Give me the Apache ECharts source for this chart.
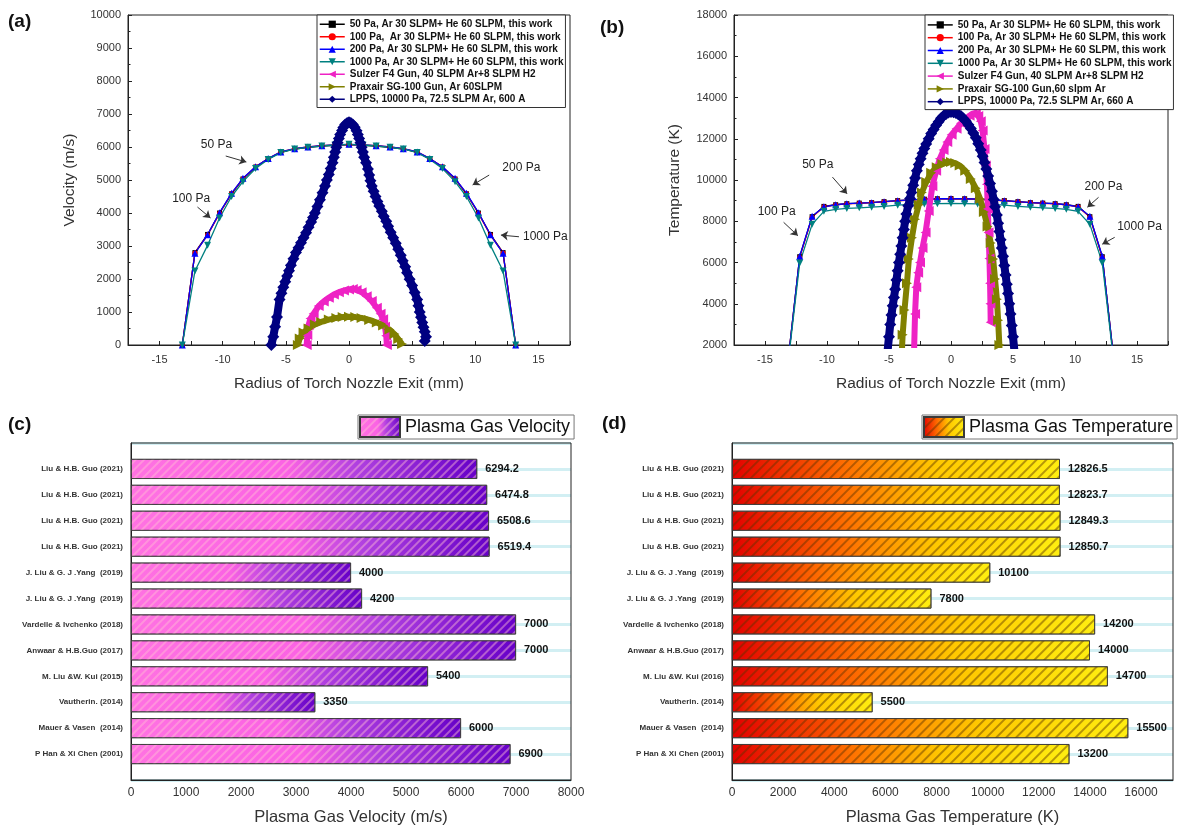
<!DOCTYPE html>
<html><head><meta charset="utf-8">
<script src="https://cdn.jsdelivr.net/npm/echarts@6/dist/echarts.min.js"></script>
<style>html,body{margin:0;padding:0;background:#fff}#c{width:1178px;height:828px}</style>
</head><body><div id="c"></div><script>
const FONT = '"Liberation Sans", Arial, sans-serif';

// ---------- (a)/(b) this-work profiles ----------
const radiusWork = [-13.2,-12.2,-11.2,-10.25,-9.3,-8.4,-7.4,-6.4,-5.4,-4.3,-3.25,-2.15,-1.1,0,1.1,2.15,3.25,4.3,5.4,6.4,7.4,8.4,9.3,10.25,11.2,12.2,13.2];
const vel50   = [0,2800,3350,4000,4580,5030,5390,5640,5840,5940,5990,6030,6050,6070,6050,6030,5990,5940,5840,5640,5390,5030,4580,4000,3350,2800,0];
const vel100  = [0,2790,3330,3990,4590,5040,5400,5650,5850,5950,6000,6040,6060,6075,6060,6040,6000,5950,5850,5650,5400,5040,4590,3990,3330,2790,0];
const vel200  = [0,2780,3340,4010,4600,5050,5400,5650,5850,5950,6000,6040,6060,6080,6060,6040,6000,5950,5850,5650,5400,5050,4600,4010,3340,2780,0];
const vel1000 = [0,2240,3020,3850,4500,4950,5350,5620,5830,5940,5990,6030,6060,6080,6060,6030,5990,5940,5830,5620,5350,4950,4500,3850,3020,2240,0];
const temp50   = [900,6280,8220,8720,8800,8850,8880,8900,8950,9000,9040,9070,9090,9100,9090,9070,9040,9000,8950,8900,8880,8850,8800,8720,8220,6280,900];
const temp100  = [900,6260,8200,8700,8790,8840,8870,8900,8940,8990,9030,9060,9080,9090,9080,9060,9030,8990,8940,8900,8870,8840,8790,8700,8200,6260,900];
const temp200  = [900,6300,8240,8700,8800,8850,8880,8900,8950,9000,9040,9070,9090,9100,9090,9070,9040,9000,8950,8900,8880,8850,8800,8700,8240,6300,900];
const temp1000 = [800,5980,7850,8480,8580,8620,8650,8680,8720,8780,8820,8840,8850,8860,8850,8840,8820,8780,8720,8680,8650,8620,8580,8480,7850,5980,800];

// ---------- (a) literature velocity profiles [radius, velocity] ----------
const velSulzer = [[-3.35,0],[-3.3,300],[-3.2,600],[-3.05,800],[-2.8,950],[-2.4,1180],[-2.0,1320],[-1.6,1430],[-1.2,1530],[-0.8,1600],[-0.4,1650],[0,1680],[0.3,1700],[0.6,1670],[1.0,1600],[1.4,1480],[1.8,1330],[2.2,1130],[2.5,950],[2.7,780],[2.85,550],[2.95,280],[3.0,0]];
const velPraxair = [[-4.05,0],[-3.9,200],[-3.6,380],[-3.2,500],[-2.7,620],[-2.2,700],[-1.6,770],[-1.0,820],[-0.5,845],[0,855],[0.5,845],[1.0,820],[1.6,760],[2.2,680],[2.7,590],[3.2,470],[3.6,330],[3.9,180],[4.2,30]];
const velLPPS = [[-6.15,0],[-6.0,250],[-5.85,550],[-5.7,850],[-5.5,1380],[-5.35,1570],[-5.2,1750],[-5.05,1920],[-4.9,2090],[-4.75,2250],[-4.6,2420],[-4.4,2610],[-4.2,2800],[-4.0,2950],[-3.8,3100],[-3.6,3250],[-3.4,3400],[-3.2,3570],[-3.0,3730],[-2.85,3860],[-2.7,4000],[-2.5,4200],[-2.3,4400],[-2.1,4610],[-1.9,4820],[-1.75,5000],[-1.6,5170],[-1.45,5350],[-1.3,5520],[-1.2,5690],[-1.1,5850],[-1.0,5990],[-0.9,6130],[-0.8,6260],[-0.7,6380],[-0.55,6500],[-0.45,6590],[-0.3,6680],[-0.15,6730],[0,6750],[0.15,6730],[0.3,6680],[0.45,6600],[0.6,6490],[0.7,6380],[0.8,6260],[0.9,6130],[1.0,5990],[1.1,5850],[1.2,5690],[1.35,5520],[1.5,5330],[1.6,5150],[1.7,4980],[1.8,4820],[1.95,4660],[2.1,4500],[2.25,4350],[2.4,4210],[2.6,4050],[2.75,3900],[2.95,3750],[3.1,3600],[3.3,3420],[3.5,3250],[3.7,3080],[3.9,2900],[4.1,2720],[4.25,2550],[4.45,2370],[4.6,2190],[4.8,1990],[5.0,1800],[5.2,1590],[5.4,1380],[5.5,1190],[5.6,1000],[5.7,840],[5.8,680],[5.9,540],[6.0,400],[6.1,250],[6.0,120]];

// ---------- (b) literature temperature profiles [radius, temperature] ----------
const tempSulzer = [[-3.0,1200],[-2.9,3500],[-2.8,4800],[-2.65,5500],[-2.5,6000],[-2.3,6700],[-2.05,7460],[-1.8,8500],[-1.5,9700],[-1.2,10450],[-0.9,11030],[-0.6,11450],[-0.3,11840],[0.05,12200],[0.45,12490],[0.8,12750],[1.2,12970],[1.5,13120],[1.75,13220],[2.0,13200],[2.2,13100],[2.4,12850],[2.55,12400],[2.7,11500],[2.8,10700],[2.9,9800],[2.97,8600],[3.03,7460],[3.1,6200],[3.15,5000],[3.18,4000],[3.2,3100]];
const tempPraxair = [[-4.0,1200],[-3.9,2500],[-3.75,3700],[-3.55,5000],[-3.4,6170],[-3.15,7200],[-2.9,8100],[-2.6,8800],[-2.35,9400],[-2.0,9900],[-1.6,10350],[-1.15,10620],[-0.7,10780],[-0.3,10850],[0,10870],[0.35,10820],[0.7,10700],[1.15,10450],[1.6,10050],[2.0,9600],[2.35,9080],[2.65,8450],[2.95,7750],[3.2,6950],[3.4,6170],[3.55,5200],[3.7,4220],[3.8,3200],[3.9,2000],[3.95,1200]];
const tempLPPS = [[-5.15,1500],[-5.0,2400],[-4.9,3000],[-4.8,3450],[-4.7,3900],[-4.6,4300],[-4.5,4700],[-4.4,5150],[-4.3,5600],[-4.2,6000],[-4.1,6400],[-4.0,6800],[-3.9,7200],[-3.8,7600],[-3.7,8000],[-3.6,8350],[-3.45,8750],[-3.3,9100],[-3.2,9400],[-3.05,9750],[-2.9,10100],[-2.75,10450],[-2.6,10750],[-2.45,11030],[-2.3,11300],[-2.15,11530],[-2.0,11750],[-1.8,12000],[-1.6,12250],[-1.4,12450],[-1.2,12650],[-1.0,12830],[-0.8,13000],[-0.6,13110],[-0.4,13200],[-0.2,13270],[0,13300],[0.2,13280],[0.4,13250],[0.6,13180],[0.8,13100],[1.0,12980],[1.2,12850],[1.4,12680],[1.6,12500],[1.8,12280],[2.0,12050],[2.2,11760],[2.4,11450],[2.55,11150],[2.7,10850],[2.85,10530],[3.0,10200],[3.15,9830],[3.3,9450],[3.45,9050],[3.55,8700],[3.7,8300],[3.8,7900],[3.9,7500],[4.0,7100],[4.1,6700],[4.2,6300],[4.3,5850],[4.4,5400],[4.5,4950],[4.6,4500],[4.7,4000],[4.8,3500],[4.9,2950],[5.0,2400],[5.15,1500]];

const namesA = ['50 Pa, Ar 30 SLPM+ He 60 SLPM, this work','100 Pa,  Ar 30 SLPM+ He 60 SLPM, this work','200 Pa, Ar 30 SLPM+ He 60 SLPM, this work','1000 Pa, Ar 30 SLPM+ He 60 SLPM, this work','Sulzer F4 Gun, 40 SLPM Ar+8 SLPM H2','Praxair SG-100 Gun, Ar 60SLPM','LPPS, 10000 Pa, 72.5 SLPM Ar, 600 A'];
const namesB = ['50 Pa, Ar 30 SLPM+ He 60 SLPM, this work','100 Pa, Ar 30 SLPM+ He 60 SLPM, this work','200 Pa, Ar 30 SLPM+ He 60 SLPM, this work','1000 Pa, Ar 30 SLPM+ He 60 SLPM, this work','Sulzer F4 Gun, 40 SLPM Ar+8 SLPM H2','Praxair SG-100 Gun,60 slpm Ar','LPPS, 10000 Pa, 72.5 SLPM Ar, 660 A'];

// annotations: [text, textX, textY, arrowFromX, arrowFromY, arrowToX, arrowToY]
const notesA = [['50 Pa',-10.5,6060,-9.76,5727,-8.13,5545],['100 Pa',-12.5,4424,-12.0,4180,-10.97,3850],['200 Pa',13.65,5360,11.1,5150,9.79,4850],['1000 Pa',15.55,3270,13.46,3280,12.03,3330]];
const notesB = [['50 Pa',-10.74,10750,-9.56,10140,-8.38,9330],['100 Pa',-14.06,8480,-13.5,7950,-12.35,7300],['200 Pa',12.3,9680,11.9,9160,11.0,8680],['1000 Pa',15.2,7740,13.2,7220,12.2,6890]];

// ---------- (c)/(d) bar charts ----------
const refCategories = ['Liu & H.B. Guo (2021)','Liu & H.B. Guo (2021)','Liu & H.B. Guo (2021)','Liu & H.B. Guo (2021)','J. Liu & G. J .Yang  (2019)','J. Liu & G. J .Yang  (2019)','Vardelle & Ivchenko (2018)','Anwaar & H.B.Guo (2017)','M. Liu &W. Kui (2015)','Vautherin. (2014)','Mauer & Vasen  (2014)','P Han & Xi Chen (2001)'];
const refCategoriesD = ['Liu & H.B. Guo (2021)','Liu & H.B. Guo (2021)','Liu & H.B. Guo (2021)','Liu & H.B. Guo (2021)','J. Liu & G. J .Yang  (2019)','J. Liu & G. J .Yang  (2019)','Vardelle & Ivchenko (2018)','Anwaar & H.B.Guo (2017)','M. Liu &W. Kui (2016)','Vautherin. (2014)','Mauer & Vasen  (2014)','P Han & Xi Chen (2001)'];
const gasVelocity = [6294.2,6474.8,6508.6,6519.4,4000,4200,7000,7000,5400,3350,6000,6900];
const gasTemperature = [12826.5,12823.7,12849.3,12850.7,10100,7800,14200,14000,14700,5500,15500,13200];

// ---------- build ----------
const workStyles = [
  {color:'#000000', symbol:'rect', rot:0, size:5},
  {color:'#ff0000', symbol:'circle', rot:0, size:5},
  {color:'#0000ff', symbol:'triangle', rot:0, size:7},
  {color:'#008080', symbol:'triangle', rot:180, size:7}
];
const litStyles = [
  {color:'#ee22c4', symbol:'triangle', rot:90, size:10, width:6},
  {color:'#808000', symbol:'triangle', rot:-90, size:10, width:6},
  {color:'#000080', symbol:'diamond', rot:0, size:12, width:8}
];
const series = [];
function addPanel(gi, names, work, lit, notes) {
  work.forEach((vals, k) => {
    const st = workStyles[k];
    series.push({type:'line', name:names[k], xAxisIndex:gi, yAxisIndex:gi,
      data: radiusWork.map((r,i)=>[r, vals[i]]),
      symbol: st.symbol, symbolRotate: st.rot, symbolSize: st.size,
      lineStyle:{color:st.color, width:1.3}, itemStyle:{color:st.color}, z:2});
  });
  lit.forEach((pts, k) => {
    const st = litStyles[k];
    series.push({type:'line', name:names[4+k], xAxisIndex:gi, yAxisIndex:gi, data: pts,
      symbol: st.symbol, symbolRotate: st.rot, symbolSize: st.size,
      lineStyle:{color:st.color, width:st.width}, itemStyle:{color:st.color}, z:3});
  });
  series.push({type:'line', name:'notes'+gi, xAxisIndex:gi, yAxisIndex:gi, data:[], silent:true, z:5,
    markLine:{silent:true, symbol:['none','arrow'], symbolSize:7, animation:false,
      lineStyle:{color:'#333', width:1, type:'solid'}, label:{show:false},
      data: notes.map(n => [{coord:[n[3],n[4]]},{coord:[n[5],n[6]]}])},
    markPoint:{silent:true, symbol:'circle', symbolSize:1, itemStyle:{color:'rgba(0,0,0,0)'}, animation:false,
      label:{show:true, position:'inside', color:'#222', fontSize:12, fontFamily:FONT, formatter:p=>p.name},
      data: notes.map(n => ({name:n[0], coord:[n[1],n[2]]}))}
  });
}
addPanel(0, namesA, [vel50,vel100,vel200,vel1000], [velSulzer,velPraxair,velLPPS], notesA);
addPanel(1, namesB, [temp50,temp100,temp200,temp1000], [tempSulzer,tempPraxair,tempLPPS], notesB);

const pad = arr => ['', ...arr, ''];
const padV = arr => ['-', ...arr, '-'];
const velGrad = new echarts.graphic.LinearGradient(0,0,1,0,[{offset:0,color:'#ff72e2'},{offset:0.45,color:'#fb62e4'},{offset:0.65,color:'#b040e0'},{offset:1,color:'#6600c8'}]);
const tempGrad = new echarts.graphic.LinearGradient(0,0,1,0,[{offset:0,color:'#e40000'},{offset:0.35,color:'#ff7000'},{offset:0.62,color:'#ffc800'},{offset:1,color:'#ffee10'}]);
const barLabel = {show:true, position:'right', distance:8, fontWeight:'bold', fontSize:11, color:'#111', fontFamily:FONT};
series.push({type:'bar', name:'Plasma Gas Velocity', xAxisIndex:2, yAxisIndex:2, data:padV(gasVelocity), barWidth:20,
  itemStyle:{color:velGrad, borderColor:'#3a3a3a', borderWidth:0.8,
    decal:{symbol:'rect', symbolSize:1, color:'rgba(255,190,210,0.45)', dashArrayX:[1,0], dashArrayY:[2,4], rotation:-Math.PI/4}},
  label:barLabel, z:2});
series.push({type:'bar', name:'Plasma Gas Temperature', xAxisIndex:3, yAxisIndex:4, data:padV(gasTemperature), barWidth:20,
  itemStyle:{color:tempGrad, borderColor:'#3a3a3a', borderWidth:0.8,
    decal:{symbol:'rect', symbolSize:1, color:'rgba(90,50,0,0.45)', dashArrayX:[1,0], dashArrayY:[1.5,4.5], rotation:-Math.PI/4}},
  label:barLabel, z:2});

const tickIn = {show:true, inside:true, length:4, lineStyle:{color:'#222', width:1}};
const axLine = {show:true, onZero:false, lineStyle:{color:'#222', width:1}};
const plain = v => String(v);
const lab = sz => ({color:'#333', fontSize:sz, fontFamily:FONT, formatter:plain});
const nameStyle = sz => ({color:'#333', fontSize:sz, fontFamily:FONT});
const fmt5 = v => (Math.abs(v % 5) < 1e-9 ? String(v) : '');

const gridCommon = {show:true, borderColor:'#222', borderWidth:1, backgroundColor:'rgba(0,0,0,0)'};
const option = {
  animation:false,
  backgroundColor:'#ffffff',
  grid:[
    Object.assign({left:128, top:15, width:442, height:330}, gridCommon),
    Object.assign({left:734, top:15, width:434, height:330}, gridCommon),
    Object.assign({left:131, top:443, width:440, height:337}, gridCommon),
    Object.assign({left:732, top:443, width:441, height:337}, gridCommon)
  ],
  xAxis:[
    {type:'value', gridIndex:0, min:-17.5, max:17.5, interval:2.5, axisLine:axLine, axisTick:tickIn, splitLine:{show:false},
      axisLabel:Object.assign(lab(11), {formatter:fmt5, margin:9}), name:'Radius of Torch Nozzle Exit (mm)', nameLocation:'middle', nameGap:31, nameTextStyle:nameStyle(15.5)},
    {type:'value', gridIndex:1, min:-17.5, max:17.5, interval:2.5, axisLine:axLine, axisTick:tickIn, splitLine:{show:false},
      axisLabel:Object.assign(lab(11), {formatter:fmt5, margin:9}), name:'Radius of Torch Nozzle Exit (mm)', nameLocation:'middle', nameGap:31, nameTextStyle:nameStyle(15.5)},
    {type:'value', gridIndex:2, min:0, max:8000, interval:1000, axisLine:axLine, axisTick:{show:false}, splitLine:{show:false},
      axisLabel:Object.assign(lab(12), {margin:7}), name:'Plasma Gas Velocity (m/s)', nameLocation:'middle', nameGap:29, nameTextStyle:nameStyle(16.5)},
    {type:'value', gridIndex:3, min:0, max:17250, interval:2000, axisLine:axLine, axisTick:{show:false}, splitLine:{show:false},
      axisLabel:Object.assign(lab(12), {margin:7, showMaxLabel:false}), name:'Plasma Gas Temperature (K)', nameLocation:'middle', nameGap:29, nameTextStyle:nameStyle(16.5)}
  ],
  yAxis:[
    {type:'value', gridIndex:0, min:0, max:10000, interval:1000, axisLine:axLine, axisTick:tickIn, splitLine:{show:false},
      minorTick:{show:true, splitNumber:2, length:2.5, lineStyle:{color:'#222'}}, minorSplitLine:{show:false},
      axisLabel:Object.assign(lab(11), {margin:7}), name:'Velocity (m/s)', nameLocation:'middle', nameGap:50, nameTextStyle:nameStyle(15.5)},
    {type:'value', gridIndex:1, min:2000, max:18000, interval:2000, axisLine:axLine, axisTick:tickIn, splitLine:{show:false},
      minorTick:{show:true, splitNumber:2, length:2.5, lineStyle:{color:'#222'}}, minorSplitLine:{show:false},
      axisLabel:Object.assign(lab(11), {margin:7}), name:'Temperature (K)', nameLocation:'middle', nameGap:51, nameTextStyle:nameStyle(15.5)},
    {type:'category', gridIndex:2, data:pad(refCategories), boundaryGap:false, inverse:true, axisLine:axLine, axisTick:{show:false}, splitLine:{show:false},
      axisLabel:{interval:0, margin:8, fontSize:8, fontWeight:'bold', color:'#333', fontFamily:FONT}},
    {type:'value', gridIndex:2, min:-0.5, max:12.5, interval:1, inverse:true, z:-1, axisLine:{show:false}, axisTick:{show:false}, axisLabel:{show:false},
      splitLine:{show:true, lineStyle:{color:'#d2eff3', width:3}}},
    {type:'category', gridIndex:3, data:pad(refCategoriesD), boundaryGap:false, inverse:true, axisLine:axLine, axisTick:{show:false}, splitLine:{show:false},
      axisLabel:{interval:0, margin:8, fontSize:8, fontWeight:'bold', color:'#333', fontFamily:FONT}},
    {type:'value', gridIndex:3, min:-0.5, max:12.5, interval:1, inverse:true, z:-1, axisLine:{show:false}, axisTick:{show:false}, axisLabel:{show:false},
      splitLine:{show:true, lineStyle:{color:'#d2eff3', width:3}}}
  ],
  legend:[
    {data:namesA.map(n=>({name:n})), orient:'vertical', left:317, top:15, itemWidth:25, itemHeight:9, itemGap:0,
      lineStyle:{width:1.5}, padding:[3,2,2,2], backgroundColor:'#fff', borderColor:'#333', borderWidth:1, borderRadius:0,
      selectedMode:false, textStyle:{fontSize:10, fontWeight:'bold', color:'#111', fontFamily:FONT, lineHeight:12.5}},
    {data:namesB.map(n=>({name:n})), orient:'vertical', left:925, top:15, itemWidth:25, itemHeight:9, itemGap:0,
      lineStyle:{width:1.5}, padding:[3.5,2,1.5,2], backgroundColor:'#fff', borderColor:'#333', borderWidth:1, borderRadius:0,
      selectedMode:false, textStyle:{fontSize:10, fontWeight:'bold', color:'#111', fontFamily:FONT, lineHeight:12.8}},
    {data:['Plasma Gas Velocity'], left:358, top:415, itemWidth:40, itemHeight:20, icon:'rect', selectedMode:false,
      padding:[1,4,1,1], backgroundColor:'#fff', borderColor:'#777', borderWidth:1, borderRadius:0,
      textStyle:{fontSize:18, color:'#111', fontFamily:FONT}},
    {data:['Plasma Gas Temperature'], left:922, top:415, itemWidth:40, itemHeight:20, icon:'rect', selectedMode:false,
      padding:[1,4,1,1], backgroundColor:'#fff', borderColor:'#777', borderWidth:1, borderRadius:0,
      textStyle:{fontSize:18, color:'#111', fontFamily:FONT}}
  ],
  graphic:[
    {type:'text', left:8, top:12, style:{text:'(a)', fontSize:19, fontWeight:'bold', fill:'#111', fontFamily:FONT}},
    {type:'text', left:600, top:18, style:{text:'(b)', fontSize:19, fontWeight:'bold', fill:'#111', fontFamily:FONT}},
    {type:'text', left:8, top:415, style:{text:'(c)', fontSize:19, fontWeight:'bold', fill:'#111', fontFamily:FONT}},
    {type:'text', left:602, top:414, style:{text:'(d)', fontSize:19, fontWeight:'bold', fill:'#111', fontFamily:FONT}}
  ],
  series: series
};
const chart = echarts.init(document.getElementById('c'), null, {renderer:'canvas'});
chart.setOption(option);
</script></body></html>
